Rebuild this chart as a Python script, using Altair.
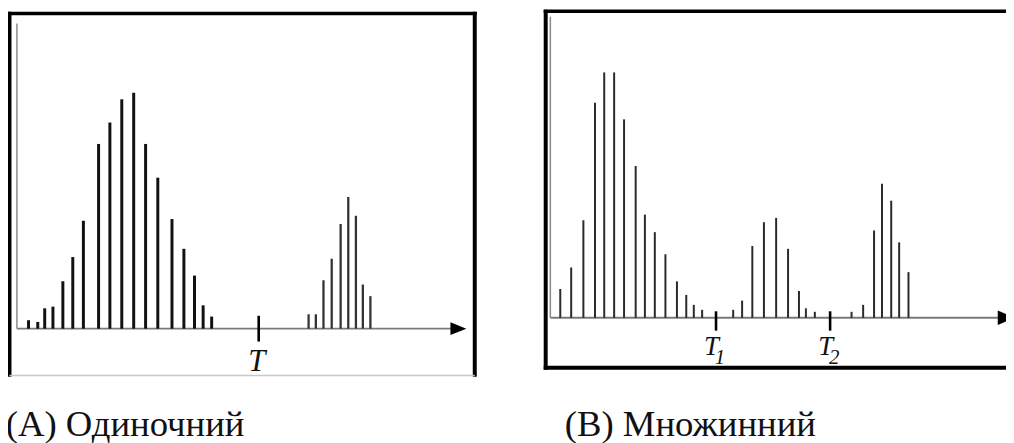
import altair as alt
import pandas as pd

# ---------------- data (time units along the axis, counts) ----------------
a_main_t = [11.7, 21.0, 28.0, 36.3, 46.3, 56.3, 67.0, 82.3, 93.7, 105.7, 117.7, 129.7,
            142.0, 156.3, 168.3, 179.0, 187.7, 196.3]
a_main_n = [8.5, 6.8, 20.5, 22.2, 47.8, 72.2, 108.8, 186.2, 207.8, 231.2, 237.8, 186.2,
            152.2, 110.5, 80.5, 53.5, 23.5, 12.2]
a_late_t = [294.0, 301.3, 309.0, 317.3, 326.3, 334.0, 341.7, 348.7, 356.3]
a_late_n = [14.5, 14.5, 48.8, 70.5, 105.5, 132.8, 113.8, 44.5, 32.8]
a_thresholds = [243.7]
a_labels = ["T"]
a_subs = [""]

b_t = [10.0, 21.0, 33.3, 45.0, 54.3, 64.3, 74.3, 86.0, 95.3, 105.3, 116.0, 127.6, 137.0,
       144.6, 153.0, 184.3, 193.3, 203.6, 215.3, 227.6, 239.6, 250.6, 257.6, 266.6,
       303.6, 315.3, 326.3, 334.3, 343.6, 351.6, 361.0]
b_n = [29.0, 50.7, 98.3, 216.7, 247.3, 247.3, 200.0, 153.0, 104.0, 86.3, 64.0, 36.7, 23.0,
       13.0, 8.0, 8.0, 17.3, 72.3, 96.3, 100.7, 69.5, 27.0, 9.5, 6.0,
       6.0, 13.0, 88.0, 135.0, 118.0, 76.0, 46.0]
b_thresholds = [167.0, 282.0]
b_labels = ["T", "T"]
b_subs = ["1", "2"]

titles = ["(A) Одиночний", "(B) Множинний"]

# ---------------- layout / style ----------------
W, H = 1006, 435
SERIF = "'Liberation Serif', 'Times New Roman', Times, 'DejaVu Serif', serif"
AXIS_LEN = 450
Y_LEN = 300

ONE = pd.DataFrame({"k": [0]})


def hrule(x1, x2, y, color="black", w=3.5):
    return alt.Chart(ONE).mark_rule(color=color, strokeWidth=w).encode(
        x=alt.value(x1), x2=alt.value(x2), y=alt.value(y))


def vrule(x, y1, y2, color="black", w=3.5):
    return alt.Chart(ONE).mark_rule(color=color, strokeWidth=w).encode(
        x=alt.value(x), y=alt.value(y1), y2=alt.value(y2))


def title_text(txt, x, y):
    return alt.Chart(ONE).mark_text(text=txt, font=SERIF, fontSize=37, color="#111",
                                    align="center", baseline="alphabetic").encode(
        x=alt.value(x), y=alt.value(y))


def panel(groups, thresholds, labels, subs, ox, base, axis_end, y_top, tick_lo, tick_hi,
          arrow_t, arrow_size, lab_size, lab_dx, lab_dy, sub_dx, sub_dy, extra):
    xs = alt.Scale(domain=[0, AXIS_LEN], range=[ox, ox + AXIS_LEN], nice=False, zero=False)
    ys = alt.Scale(domain=[0, Y_LEN], range=[base, base - Y_LEN], nice=False, zero=False)
    layers = []
    # axes
    xaxis = pd.DataFrame({"t": [0.0], "t2": [axis_end], "n": [0.0]})
    layers.append(alt.Chart(xaxis).mark_rule(color="#7a7a7a", strokeWidth=1.8).encode(
        x=alt.X("t:Q", scale=xs, axis=None), x2="t2:Q",
        y=alt.Y("n:Q", scale=ys, axis=None)))
    yaxis = pd.DataFrame({"t": [0.0], "n": [0.0], "n2": [y_top]})
    layers.append(alt.Chart(yaxis).mark_rule(color="#8a8a8a", strokeWidth=1.5).encode(
        x=alt.X("t:Q", scale=xs, axis=None),
        y=alt.Y("n:Q", scale=ys, axis=None), y2="n2:Q"))
    # bars
    for ts, ns, color, w in groups:
        df = pd.DataFrame({"t": ts, "n": ns, "b": [0.0] * len(ts)})
        layers.append(alt.Chart(df).mark_rule(color=color, strokeWidth=w).encode(
            x=alt.X("t:Q", scale=xs, axis=None),
            y=alt.Y("n:Q", scale=ys, axis=None), y2="b:Q"))
    # arrow head
    arr = pd.DataFrame({"t": [arrow_t], "n": [0.0]})
    layers.append(alt.Chart(arr).mark_point(shape="M-1,-0.8L1,0L-1,0.8Z", size=arrow_size,
                                            filled=True, color="black", opacity=1).encode(
        x=alt.X("t:Q", scale=xs, axis=None), y=alt.Y("n:Q", scale=ys, axis=None)))
    # threshold ticks and labels
    tdf = pd.DataFrame({"t": thresholds, "lo": [tick_lo] * len(thresholds),
                        "hi": [tick_hi] * len(thresholds), "n": [0.0] * len(thresholds),
                        "lab": labels, "sub": subs})
    layers.append(alt.Chart(tdf).mark_rule(color="black", strokeWidth=2.6).encode(
        x=alt.X("t:Q", scale=xs, axis=None),
        y=alt.Y("lo:Q", scale=ys, axis=None), y2="hi:Q"))
    layers.append(alt.Chart(tdf).mark_text(font=SERIF, fontSize=lab_size, fontStyle="italic",
                                           color="#111", align="center",
                                           baseline="alphabetic", dx=lab_dx, dy=lab_dy).encode(
        x=alt.X("t:Q", scale=xs, axis=None), y=alt.Y("n:Q", scale=ys, axis=None),
        text="lab:N"))
    layers.append(alt.Chart(tdf).mark_text(font=SERIF, fontSize=21, fontStyle="italic",
                                           color="#111", align="center",
                                           baseline="alphabetic", dx=sub_dx, dy=sub_dy).encode(
        x=alt.X("t:Q", scale=xs, axis=None), y=alt.Y("n:Q", scale=ys, axis=None),
        text="sub:N"))
    return alt.layer(*(extra + layers))


frame_a = [
    hrule(-0.5, 472.5, 3.7, w=3.5),
    vrule(1.5, 2.0, 370.0, w=4),
    vrule(470.5, 2.0, 370.0, w=4),
    hrule(1.5, 470.5, 368.7, color="#c8c8c8", w=1.5),
    title_text(titles[0], 118, 430.0),
]
frame_b = [
    hrule(540.0, 1010.0, 1.5, w=3.5),
    vrule(542.0, 0.0, 363.0, w=4),
    hrule(540.0, 1010.0, 361.0, w=4),
    title_text(titles[1], 687.8, 430.0),
]

panel_a = panel([(a_main_t, a_main_n, "#111111", 3.0), (a_late_t, a_late_n, "#333333", 2.3)],
                a_thresholds, a_labels, a_subs,
                ox=9.0, base=321.5, axis_end=440.0, y_top=307.5, tick_lo=-13.0, tick_hi=13.0,
                arrow_t=445.0, arrow_size=256, lab_size=31, lab_dx=-2, lab_dy=43,
                sub_dx=0, sub_dy=0, extra=frame_a)
panel_b = panel([(b_t, b_n, "#2a2a2a", 2.0)],
                b_thresholds, b_labels, b_subs,
                ox=546.7, base=310.5, axis_end=455.0, y_top=303.5, tick_lo=-13.0, tick_hi=6.5,
                arrow_t=460.0, arrow_size=324, lab_size=27, lab_dx=-4.5, lab_dy=37.5,
                sub_dx=4, sub_dy=46.5, extra=frame_b)

chart = alt.layer(panel_a, panel_b).resolve_scale(x="independent", y="independent").properties(
    width=W, height=H, padding=0, autosize=alt.AutoSizeParams(type="none"),
    background="white"
).configure_view(stroke=None)

chart.save("out.html", embed_options={"renderer": "svg", "actions": False})
